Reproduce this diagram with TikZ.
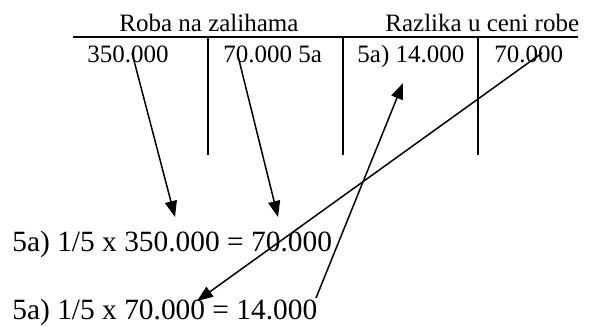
\documentclass[tikz,border=0pt]{standalone}
\usepackage{fontspec}
\setmainfont{Liberation Serif}
\usetikzlibrary{arrows.meta}
\tikzset{
  acct/.style={inner sep=0pt, anchor=base west, font=\fontsize{12.5}{15}\selectfont},
  calc/.style={inner sep=0pt, anchor=base west, font=\fontsize{14.7}{17}\selectfont},
  rule/.style={line width=1pt},
  arrow/.style={-{Triangle[length=8pt, width=6pt]}, line width=0.75pt},
}

\begin{document}
\begin{tikzpicture}[x=0.5pt, y=-0.5pt]
    \useasboundingbox (0,0) rectangle (608,326);
    \node[acct] (roba) at (119,32) {Roba na zalihama};
    \node[acct] (razlika) at (385,32) {Razlika u ceni robe};
    \node[acct] (dug1) at (87,62) {350.000};
    \node[acct] (pot1) at (223,62) {70.000 5a};
    \node[acct] (dug2) at (357,62) {5a) 14.000};
    \node[acct] (pot2) at (494,62) {70.000};
    \node[calc] (eq1) at (12,251) {5a) 1/5 x 350.000 = 70.000};
    \node[calc] (eq2) at (12,319) {5a) 1/5 x 70.000 = 14.000};
    % T accounts
    \coordinate (tl) at (73,37.5);
    \coordinate (tr) at (578,37.5);
    \draw[rule] (tl) -- (tr);
    \foreach \x in {208,343,478}
      \draw[rule] (\x,37.5) -- (\x,155);
    % arrow ends
    \coordinate (s1) at (132,53);
    \coordinate (e1) at (175,217);
    \coordinate (s2) at (238,56);
    \coordinate (e2) at (278,217);
    \coordinate (s3) at (542,53);
    \coordinate (e3) at (197,301);
    \coordinate (s4) at (316,298);
    \coordinate (e4) at (403,83);
    \draw[arrow] (s1) -- (e1);
    \draw[arrow] (s2) -- (e2);
    \draw[arrow] (s3) -- (e3);
    \draw[arrow] (s4) -- (e4);
\end{tikzpicture}
\end{document}
